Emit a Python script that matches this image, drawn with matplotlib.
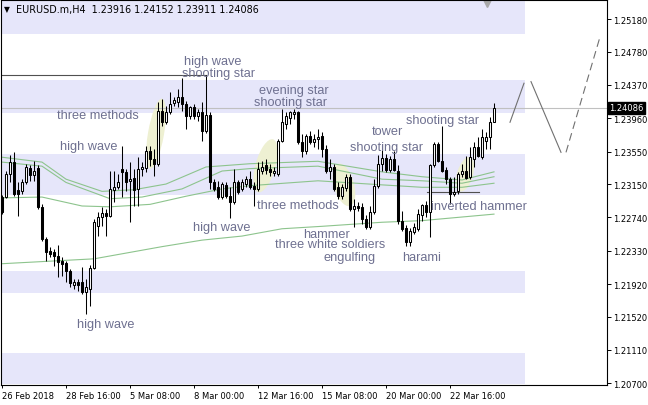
import matplotlib
matplotlib.use('Agg')
import matplotlib.pyplot as plt
import numpy as np
from matplotlib.patches import Ellipse
from matplotlib.transforms import IdentityTransform, blended_transform_factory

# ---------------- data (EURUSD.m, H4) ----------------
opens = [
1.2299, 1.2299, 1.2327, 1.2342, 1.2308, 1.2306, 1.2317, 1.2335, 1.2326, 1.2335,
1.2287, 1.2247, 1.2233, 1.2231, 1.2227, 1.2220, 1.2218, 1.2208, 1.2191, 1.2195,
1.2195, 1.2182, 1.2186, 1.2212, 1.2263, 1.2274, 1.2279, 1.2276, 1.2308, 1.2311,
1.2334, 1.2330, 1.2319, 1.2322, 1.2309, 1.2334, 1.2335, 1.2356, 1.2346, 1.2340,
1.2405, 1.2391, 1.2404, 1.2415, 1.2416, 1.2422, 1.2413, 1.2399, 1.2410, 1.2399,
1.2404, 1.2380, 1.2400, 1.2317, 1.2311, 1.2299, 1.2314, 1.2300, 1.2293, 1.2317,
1.2309, 1.2315, 1.2321, 1.2313, 1.2309, 1.2331, 1.2338, 1.2334, 1.2329, 1.2327,
1.2368, 1.2389, 1.2396, 1.2401, 1.2404, 1.2367, 1.2356, 1.2374, 1.2367, 1.2370,
1.2374, 1.2358, 1.2331, 1.2336, 1.2311, 1.2300, 1.2310, 1.2324, 1.2284, 1.2288,
1.2287, 1.2272, 1.2262, 1.2281, 1.2313, 1.2340, 1.2347, 1.2332, 1.2346, 1.2331,
1.2270, 1.2261, 1.2244, 1.2256, 1.2260, 1.2277, 1.2289, 1.2281, 1.2338, 1.2364,
1.2343, 1.2332, 1.2321, 1.2303, 1.2306, 1.2327, 1.2331, 1.2324, 1.2346, 1.2361,
1.2348, 1.2368, 1.2373, 1.23916]
highs = [
1.2301, 1.2331, 1.2351, 1.2354, 1.2317, 1.2321, 1.2340, 1.2338, 1.2343, 1.2338,
1.2290, 1.2250, 1.2238, 1.2235, 1.2240, 1.2225, 1.2220, 1.2211, 1.2198, 1.2198,
1.2213, 1.2198, 1.2215, 1.2272, 1.2281, 1.2287, 1.2284, 1.2331, 1.2331, 1.2327,
1.2362, 1.2334, 1.2342, 1.2334, 1.2348, 1.2342, 1.2362, 1.2362, 1.2358, 1.2416,
1.2420, 1.2411, 1.2428, 1.2422, 1.2432, 1.2445, 1.2417, 1.2411, 1.2413, 1.2407,
1.2416, 1.2449, 1.2404, 1.2321, 1.2319, 1.2317, 1.2317, 1.2311, 1.2334, 1.2320,
1.2321, 1.2325, 1.2331, 1.2317, 1.2342, 1.2343, 1.2346, 1.2340, 1.2336, 1.2370,
1.2407, 1.2404, 1.2405, 1.2407, 1.2405, 1.2377, 1.2377, 1.2380, 1.2377, 1.2383,
1.2379, 1.2363, 1.2346, 1.2340, 1.2317, 1.2315, 1.2327, 1.2327, 1.2297, 1.2293,
1.2292, 1.2277, 1.2288, 1.2321, 1.2351, 1.2364, 1.2352, 1.2350, 1.2356, 1.2338,
1.2282, 1.2265, 1.2261, 1.2267, 1.2284, 1.2290, 1.2294, 1.2340, 1.2367, 1.2367,
1.2386, 1.2336, 1.2324, 1.2324, 1.2330, 1.2340, 1.2350, 1.2361, 1.2367, 1.2373,
1.2383, 1.2379, 1.2397, 1.24152]
lows = [
1.2278, 1.2298, 1.2317, 1.2300, 1.2276, 1.2303, 1.2315, 1.2319, 1.2319, 1.2284,
1.2245, 1.2220, 1.2225, 1.2214, 1.2201, 1.2202, 1.2195, 1.2188, 1.2186, 1.2183,
1.2180, 1.2155, 1.2165, 1.2211, 1.2251, 1.2263, 1.2251, 1.2274, 1.2293, 1.2309,
1.2299, 1.2306, 1.2268, 1.2288, 1.2288, 1.2325, 1.2330, 1.2337, 1.2325, 1.2337,
1.2386, 1.2389, 1.2401, 1.2411, 1.2410, 1.2405, 1.2383, 1.2395, 1.2395, 1.2393,
1.2368, 1.2378, 1.2309, 1.2306, 1.2297, 1.2297, 1.2298, 1.2273, 1.2290, 1.2303,
1.2306, 1.2311, 1.2309, 1.2288, 1.2306, 1.2327, 1.2327, 1.2325, 1.2325, 1.2325,
1.2367, 1.2383, 1.2389, 1.2395, 1.2364, 1.2348, 1.2352, 1.2364, 1.2361, 1.2358,
1.2348, 1.2329, 1.2321, 1.2306, 1.2297, 1.2297, 1.2306, 1.2282, 1.2262, 1.2282,
1.2266, 1.2260, 1.2260, 1.2278, 1.2310, 1.2331, 1.2330, 1.2330, 1.2331, 1.2266,
1.2257, 1.2239, 1.2239, 1.2254, 1.2257, 1.2270, 1.2274, 1.2250, 1.2336, 1.2342,
1.2330, 1.2315, 1.2290, 1.2300, 1.2303, 1.2324, 1.2321, 1.2321, 1.2336, 1.2348,
1.2346, 1.2358, 1.2358, 1.23911]
closes = [
1.2281, 1.2327, 1.2342, 1.2303, 1.2303, 1.2317, 1.2336, 1.2326, 1.2331, 1.2287,
1.2247, 1.2231, 1.2229, 1.2227, 1.2219, 1.2217, 1.2208, 1.2193, 1.2195, 1.2191,
1.2182, 1.2188, 1.2212, 1.2268, 1.2274, 1.2279, 1.2276, 1.2309, 1.2311, 1.2317,
1.2330, 1.2317, 1.2321, 1.2308, 1.2334, 1.2336, 1.2356, 1.2346, 1.2340, 1.2405,
1.2391, 1.2404, 1.2413, 1.2418, 1.2422, 1.2413, 1.2399, 1.2410, 1.2399, 1.2404,
1.2380, 1.2400, 1.2317, 1.2309, 1.2299, 1.2315, 1.2300, 1.2293, 1.2317, 1.2305,
1.2317, 1.2321, 1.2311, 1.2309, 1.2334, 1.2336, 1.2332, 1.2330, 1.2331, 1.2368,
1.2391, 1.2399, 1.2404, 1.2404, 1.2367, 1.2356, 1.2374, 1.2367, 1.2370, 1.2373,
1.2358, 1.2331, 1.2336, 1.2309, 1.2300, 1.2311, 1.2324, 1.2284, 1.2288, 1.2286,
1.2272, 1.2262, 1.2281, 1.2313, 1.2340, 1.2347, 1.2332, 1.2346, 1.2332, 1.2270,
1.2260, 1.2244, 1.2257, 1.2262, 1.2278, 1.2289, 1.2281, 1.2338, 1.2364, 1.2343,
1.2331, 1.2321, 1.2303, 1.2305, 1.2327, 1.2331, 1.2322, 1.2348, 1.2361, 1.2350,
1.2373, 1.2373, 1.2391, 1.24086]

# moving averages (sampled along the curves)
ma_fast_bars = [0, 10, 16, 25, 33, 41, 51, 62, 79, 95, 105, 115, 123]
ma_fast = [1.2348, 1.2342, 1.2321, 1.2306, 1.2308, 1.2315, 1.2336, 1.2340, 1.2343, 1.2330, 1.2324, 1.2320, 1.2330]
ma_mid_bars = [0, 10, 16, 27, 35, 45, 55, 62, 79, 95, 105, 115, 123]
ma_mid = [1.2342, 1.2337, 1.2317, 1.2297, 1.2299, 1.2309, 1.2331, 1.2334, 1.2337, 1.2321, 1.2319, 1.2316, 1.2324]
ma_slow_bars = [0, 10, 20, 27, 37, 46, 55, 62, 79, 95, 105, 115, 123]
ma_slow = [1.2298, 1.2299, 1.2288, 1.2287, 1.2290, 1.2300, 1.2309, 1.2313, 1.2319, 1.2314, 1.2311, 1.2311, 1.2316]
ma_long_bars = [0, 23, 40, 50, 60, 70, 80, 95, 105, 123]
ma_long = [1.2217, 1.2223, 1.2238, 1.2246, 1.2251, 1.2260, 1.2263, 1.2268, 1.2270, 1.2278]

# support / resistance zones
zone_top = [1.2560, 1.2443, 1.2352, 1.2208, 1.2107]
zone_bottom = [1.2500, 1.2402, 1.2302, 1.2181, 1.2069]
zone_end_bar = 130.75

# candlestick pattern labels
pat_text = ["three methods", "high wave", "high wave", "shooting star", "evening star",
            "shooting star", "tower", "shooting star", "shooting star", "three methods",
            "high wave", "hammer", "three white soldiers", "engulfing", "harami",
            "inverted hammer", "high wave"]
pat_bar = [24, 21.75, 52.75, 54.25, 73, 72, 96.25, 96.25, 110, 74, 55, 81, 82, 87, 105, 119.25, 26]
pat_price = [1.2400, 1.2362, 1.2466, 1.2452, 1.2431, 1.2416, 1.2380, 1.2361, 1.2394, 1.2289,
             1.2262, 1.2254, 1.2241, 1.2225, 1.2225, 1.2288, 1.2143]

# highlighted pattern areas (long axis end points)
hl_bar0 = [40, 67.75, 84, 117]
hl_price0 = [1.2420, 1.2370, 1.2340, 1.2348]
hl_bar1 = [37, 64, 87, 114.5]
hl_price1 = [1.2334, 1.2305, 1.2288, 1.2306]

# forecast zigzag
fc1_bars, fc1_prices = [127, 130.5], [1.2391, 1.2439]
fc2_bars, fc2_prices = [132.25, 139.75], [1.2441, 1.2354]
fc3_bars, fc3_prices = [141, 149.5], [1.2354, 1.2496]

support_level = 1.2305
support_bars = [106.25, 119.25]

date_ticks = [0, 16, 32, 48, 64, 80, 96, 112]
date_labels = ["26 Feb 2018", "28 Feb 16:00", "5 Mar 08:00", "8 Mar 00:00",
               "12 Mar 16:00", "15 Mar 08:00", "20 Mar 00:00", "22 Mar 16:00"]
price_ticks = [1.20700, 1.21110, 1.21520, 1.21920, 1.22330, 1.22740,
               1.23150, 1.23550, 1.23960, 1.24370, 1.24780, 1.25180]
last_price = 1.24086

# ---------------- figure ----------------
W, H = 648, 406
fig = plt.figure(figsize=(W / 100, H / 100), dpi=100)
ax = fig.add_axes([1 / W, 20 / H, 606 / W, 385 / H])
ax.set_xlim(-0.25, 151.25)
ax.set_ylim(1.20678, 1.25414)

# zones
for t, b in zip(zone_top, zone_bottom):
    ax.fill_between([-0.25, zone_end_bar], b, t, color='#E6E6FA', lw=0, zorder=0.5)

# highlight ellipses
fig.canvas.draw()
for b0, p0, b1, p1, wpx in zip(hl_bar0, hl_price0, hl_bar1, hl_price1, [16, 20, 20, 16]):
    x0, y0 = ax.transData.transform((b0, p0))
    x1, y1 = ax.transData.transform((b1, p1))
    ang = np.degrees(np.arctan2(y1 - y0, x1 - x0))
    e = Ellipse(((x0 + x1) / 2, (y0 + y1) / 2), np.hypot(x1 - x0, y1 - y0), wpx, angle=ang,
                transform=IdentityTransform(), fc='#EEF0D2', ec='none', zorder=1)
    ax.add_patch(e)

# lines
ax.axhline(last_price, color='#C0C0C0', lw=0.8, zorder=1.2)
ax.plot([-0.25, 51], [highs[51], highs[51]], color='#505050', lw=0.8, zorder=1.3)
ax.plot(support_bars, [support_level, support_level], color='#505050', lw=0.8, zorder=1.3)
g = '#8DC48D'
ax.plot(ma_long_bars, ma_long, color=g, lw=0.8, zorder=1.5)
ax.plot(ma_fast_bars, ma_fast, color=g, lw=0.8, zorder=1.5)
ax.plot(ma_mid_bars, ma_mid, color=g, lw=0.8, zorder=1.5)
ax.plot(ma_slow_bars, ma_slow, color=g, lw=0.8, zorder=1.5)

ax.plot(fc1_bars, fc1_prices, color='#707070', lw=0.8)
ax.plot(fc2_bars, fc2_prices, color='#707070', lw=0.8)
ax.plot(fc3_bars, fc3_prices, color='#707070', lw=0.8, dashes=(7, 4))
ax.plot([121.25], [1.2538], marker='v', ms=6, color='#A8A8A8', mec='#A8A8A8', clip_on=False)

# candles
x = np.arange(len(opens))
o = np.array(opens); c = np.array(closes)
up = c >= o
ax.vlines(x, lows, highs, color='black', lw=0.75, zorder=3)
ax.bar(x[up], (c - o)[up], bottom=o[up], width=0.55, color='white', edgecolor='black', lw=0.75, zorder=4)
ax.bar(x[~up], (o - c)[~up], bottom=c[~up], width=0.55, color='black', edgecolor='black', lw=0.75, zorder=4)

# pattern labels
for t, bx, py in zip(pat_text, pat_bar, pat_price):
    ax.text(bx, py, t, ha='center', va='center', fontsize=9.2, family='Liberation Sans',
            color='#6E7090', zorder=5)

# axes styling
for s in ax.spines.values():
    s.set_color('black'); s.set_linewidth(0.8)
ax.yaxis.tick_right()
ax.set_yticks(price_ticks)
ax.set_yticklabels(['%.5f' % v for v in price_ticks])
ax.set_xticks(date_ticks)
ax.set_xticklabels(date_labels)
for lbl in ax.get_xticklabels():
    lbl.set_ha('left')
ax.tick_params(axis='y', direction='out', length=3, width=0.7, pad=1.5, labelsize=6)
ax.tick_params(axis='x', direction='out', length=2, width=0.7, pad=2, labelsize=6)

# last price label
tr = blended_transform_factory(ax.transAxes, ax.transData)
ax.text(1.004, last_price, '%.5f' % last_price, transform=tr, ha='left', va='center',
        fontsize=6, color='white', zorder=10,
        bbox=dict(boxstyle='square,pad=0.15', fc='black', ec='black'))

# title
fig.text(4 / W, 1 - 10 / H, '\u25BC', fontsize=5.5, va='center', ha='left', color='black')
fig.text(16 / W, 1 - 10 / H, 'EURUSD.m,H4  1.23916 1.24152 1.23911 1.24086',
         fontsize=6.9, va='center', ha='left', color='black')

fig.savefig('out.png', dpi=100)
